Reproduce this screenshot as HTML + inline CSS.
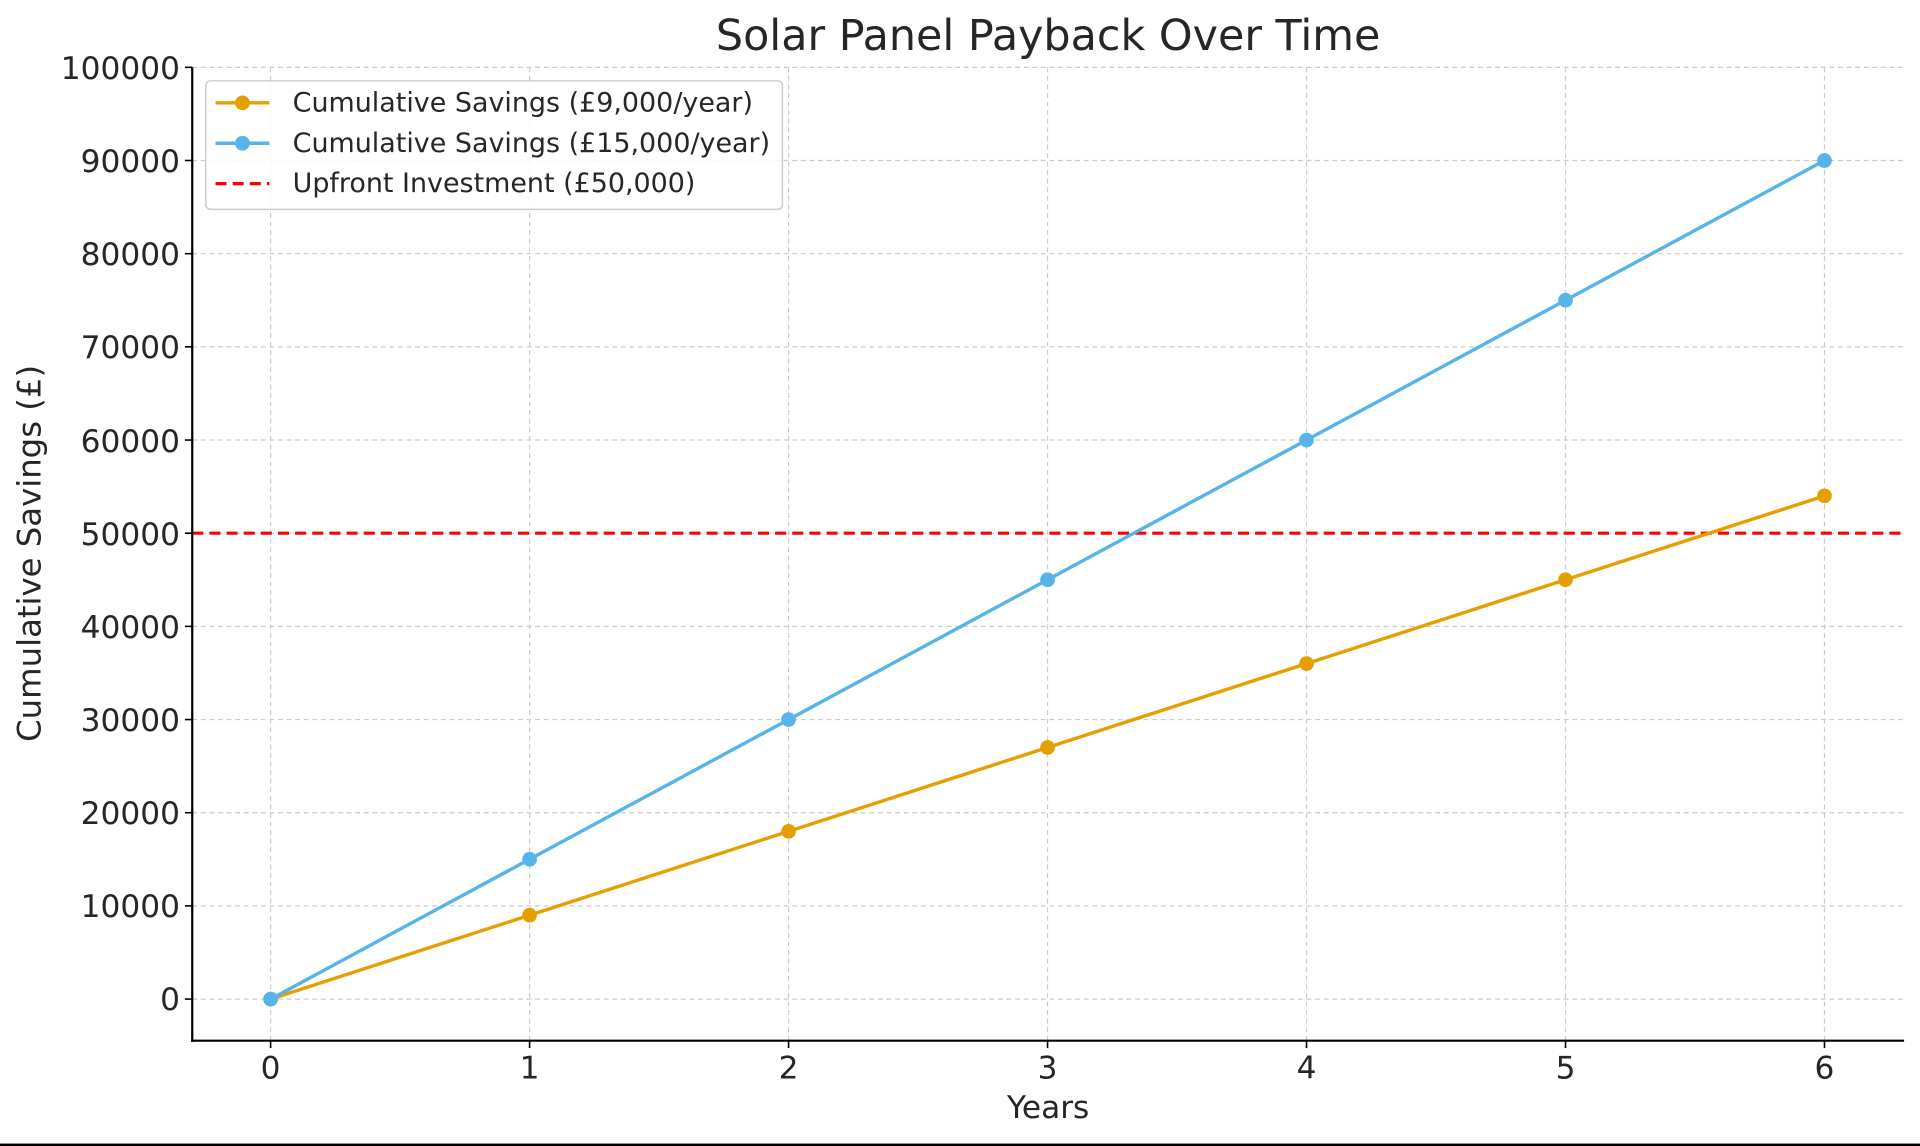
<!DOCTYPE html>
<html><head><meta charset="utf-8"><style>
html,body{margin:0;padding:0;background:#fff;}
svg{display:block;}
text{font-family:"DejaVu Sans","Liberation Sans",sans-serif;fill:#262626;}
</style></head><body>
<svg width="1920" height="1146" viewBox="0 0 1568 936" preserveAspectRatio="none" xmlns="http://www.w3.org/2000/svg">
<rect width="1568" height="936" fill="#fff"/>
<g stroke="#cccccc" stroke-width="1" stroke-dasharray="4,3">
<line x1="221" y1="55" x2="221" y2="850"/><line x1="432.5" y1="55" x2="432.5" y2="850"/><line x1="644" y1="55" x2="644" y2="850"/><line x1="855.5" y1="55" x2="855.5" y2="850"/><line x1="1067" y1="55" x2="1067" y2="850"/><line x1="1278.5" y1="55" x2="1278.5" y2="850"/><line x1="1490" y1="55" x2="1490" y2="850"/>
<line x1="157" y1="816" x2="1555" y2="816"/><line x1="157" y1="739.9" x2="1555" y2="739.9"/><line x1="157" y1="663.8" x2="1555" y2="663.8"/><line x1="157" y1="587.7" x2="1555" y2="587.7"/><line x1="157" y1="511.6" x2="1555" y2="511.6"/><line x1="157" y1="435.5" x2="1555" y2="435.5"/><line x1="157" y1="359.4" x2="1555" y2="359.4"/><line x1="157" y1="283.3" x2="1555" y2="283.3"/><line x1="157" y1="207.2" x2="1555" y2="207.2"/><line x1="157" y1="131.1" x2="1555" y2="131.1"/><line x1="157" y1="55" x2="1555" y2="55"/>
</g>
<line x1="157" y1="435.5" x2="1555" y2="435.5" stroke="#ff0000" stroke-width="2.6" stroke-dasharray="9,5"/>
<polyline fill="none" stroke="#e69f00" stroke-width="2.8" points="221,816 432.5,747.5 644,679 855.5,610.5 1067,542 1278.5,473.5 1490,405"/>
<g fill="#e69f00"><circle cx="221" cy="816" r="6"/><circle cx="432.5" cy="747.5" r="6"/><circle cx="644" cy="679" r="6"/><circle cx="855.5" cy="610.5" r="6"/><circle cx="1067" cy="542" r="6"/><circle cx="1278.5" cy="473.5" r="6"/><circle cx="1490" cy="405" r="6"/></g>
<polyline fill="none" stroke="#56b4e9" stroke-width="2.8" points="221,816 432.5,701.8 644,587.7 855.5,473.5 1067,359.4 1278.5,245.2 1490,131.1"/>
<g fill="#56b4e9"><circle cx="221" cy="816" r="6"/><circle cx="432.5" cy="701.8" r="6"/><circle cx="644" cy="587.7" r="6"/><circle cx="855.5" cy="473.5" r="6"/><circle cx="1067" cy="359.4" r="6"/><circle cx="1278.5" cy="245.2" r="6"/><circle cx="1490" cy="131.1" r="6"/></g>
<line x1="157" y1="55" x2="157" y2="851" stroke="#000" stroke-width="1.8"/>
<line x1="156" y1="850" x2="1555" y2="850" stroke="#000" stroke-width="1.8"/>
<g stroke="#000" stroke-width="1.3">
<line x1="221" y1="850" x2="221" y2="856"/><line x1="432.5" y1="850" x2="432.5" y2="856"/><line x1="644" y1="850" x2="644" y2="856"/><line x1="855.5" y1="850" x2="855.5" y2="856"/><line x1="1067" y1="850" x2="1067" y2="856"/><line x1="1278.5" y1="850" x2="1278.5" y2="856"/><line x1="1490" y1="850" x2="1490" y2="856"/>
<line x1="151" y1="816" x2="157" y2="816"/><line x1="151" y1="739.9" x2="157" y2="739.9"/><line x1="151" y1="663.8" x2="157" y2="663.8"/><line x1="151" y1="587.7" x2="157" y2="587.7"/><line x1="151" y1="511.6" x2="157" y2="511.6"/><line x1="151" y1="435.5" x2="157" y2="435.5"/><line x1="151" y1="359.4" x2="157" y2="359.4"/><line x1="151" y1="283.3" x2="157" y2="283.3"/><line x1="151" y1="207.2" x2="157" y2="207.2"/><line x1="151" y1="131.1" x2="157" y2="131.1"/><line x1="151" y1="55" x2="157" y2="55"/>
</g>
<g font-size="25.5" text-anchor="middle">
<text x="221" y="881">0</text><text x="432.5" y="881">1</text><text x="644" y="881">2</text><text x="855.5" y="881">3</text><text x="1067" y="881">4</text><text x="1278.5" y="881">5</text><text x="1490" y="881">6</text>
</g>
<g font-size="25.5" text-anchor="end">
<text x="147" y="825">0</text><text x="147" y="749">10000</text><text x="147" y="673">20000</text><text x="147" y="597">30000</text><text x="147" y="521">40000</text><text x="147" y="445">50000</text><text x="147" y="369">60000</text><text x="147" y="292.5">70000</text><text x="147" y="216.5">80000</text><text x="147" y="140.5">90000</text><text x="147" y="64.5">100000</text>
</g>
<text x="856" y="913" font-size="25.5" text-anchor="middle">Years</text>
<text transform="translate(33,452) rotate(-90)" font-size="26.4" text-anchor="middle">Cumulative Savings (£)</text>
<text x="856" y="41" font-size="35" text-anchor="middle">Solar Panel Payback Over Time</text>
<rect x="168" y="66" width="471" height="105" rx="4" fill="#fff" fill-opacity="0.85" stroke="#cccccc" stroke-width="1.2"/>
<line x1="176" y1="84" x2="220" y2="84" stroke="#e69f00" stroke-width="2.8"/><circle cx="198" cy="84" r="6" fill="#e69f00"/>
<line x1="176" y1="117" x2="220" y2="117" stroke="#56b4e9" stroke-width="2.8"/><circle cx="198" cy="117" r="6" fill="#56b4e9"/>
<line x1="176" y1="150" x2="220" y2="150" stroke="#ff0000" stroke-width="2.6" stroke-dasharray="9,5"/>
<g font-size="22"><text x="239" y="91">Cumulative Savings (£9,000/year)</text><text x="239" y="124">Cumulative Savings (£15,000/year)</text><text x="239" y="157">Upfront Investment (£50,000)</text></g>
<rect x="0" y="934" width="1568" height="2" fill="#000"/>
</svg>
</body></html>
